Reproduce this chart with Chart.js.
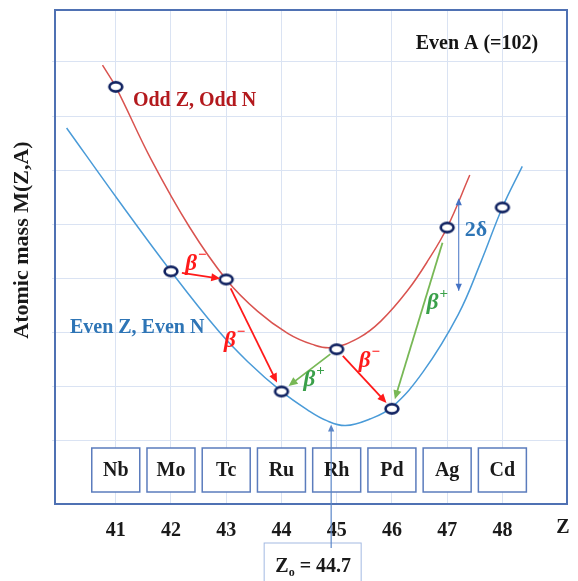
<!DOCTYPE html>
<html>
<head>
<meta charset="utf-8">
<style>
  html, body { margin: 0; padding: 0; background: #fff; }
</style>
<script src="https://cdn.jsdelivr.net/npm/chart.js@4.4.4/dist/chart.umd.min.js"></script>
</head>
<body>
<canvas id="chart" width="578" height="581"></canvas>
<script>
// isobars A = 102 (mass in arbitrary grid units)
const elementNames = ['Nb', 'Mo', 'Tc', 'Ru', 'Rh', 'Pd', 'Ag', 'Cd'];
const elementZ     = [41, 42, 43, 44, 45, 46, 47, 48];
const elementMass  = [6.54, 3.13, 2.98, 0.91, 1.69, 0.59, 3.94, 4.31];

// odd Z, odd N parabola (red)
const oddCurveZ = [40.76, 41, 41.64, 42.34, 43, 43.57, 44.12, 44.56, 44.91, 45.4, 45.8, 46.28, 46.66, 47, 47.41];
const oddCurveM = [6.94, 6.54, 5.20, 3.94, 2.98, 2.39, 1.98, 1.78, 1.72, 1.90, 2.21, 2.77, 3.34, 3.94, 4.91];

// even Z, even N parabola (blue)
const evenCurveZ = [40.11, 41.05, 42, 42.85, 43.39, 44, 44.47, 44.82, 45.16, 45.6, 46, 46.57, 47.2, 47.61, 48, 48.36];
const evenCurveM = [5.78, 4.44, 3.13, 2.04, 1.46, 0.91, 0.57, 0.37, 0.28, 0.40, 0.62, 1.28, 2.33, 3.30, 4.31, 5.07];

const tickZ = [41, 42, 43, 44, 45, 46, 47, 48];
const gridM = [0, 1, 2, 3, 4, 5, 6, 7];

const zMin = 44.7;

// decays: from -> to
const decayFrom = ['Mo', 'Tc', 'Rh', 'Rh', 'Ag'];
const decayTo   = ['Tc', 'Ru', 'Pd', 'Ru', 'Pd'];
const decaySign = ['−', '−', '−', '+', '+'];

// label placement (pixel offsets from arrow middle) and gaps
const decayLabelOff = [[-10, -12], [-24, 6], [0, -18], [0, 10], [14, -18]];
const decayGap = [[11, 6], [10, 10], [9, 8], [8, 9], [16, 10]];

const notes = [
  { text: 'Odd Z, Odd N',   z: 41.31, m: 6.29, color: '#b3191d', size: 20 },
  { text: 'Even Z, Even N', z: 40.17, m: 2.08, color: '#2e75b6', size: 20 },
  { text: 'Even A (=102)',  z: 46.43, m: 7.33, color: '#151515', size: 20 },
  { text: '2δ',             z: 47.32, m: 3.88, color: '#2e75b6', size: 22 }
];

const SERIF = "'Liberation Serif', 'DejaVu Serif', serif";
const RED = '#ff1a1a', GREEN = '#3aa04a', GREEN_LINE = '#78b856';

function ringImage() {
  const c = document.createElement('canvas');
  c.width = 18; c.height = 14;
  const g = c.getContext('2d');
  g.beginPath();
  g.ellipse(9, 7, 6.4, 4.6, 0, 0, Math.PI * 2);
  g.fillStyle = '#fff';
  g.fill();
  g.lineWidth = 2.6;
  g.strokeStyle = '#0f2160';
  g.stroke();
  return c;
}

function arrow(ctx, x1, y1, x2, y2, color, width, head, both) {
  const ang = Math.atan2(y2 - y1, x2 - x1);
  ctx.strokeStyle = color;
  ctx.fillStyle = color;
  ctx.lineWidth = width;
  ctx.beginPath();
  ctx.moveTo(x1, y1);
  ctx.lineTo(x2 - Math.cos(ang) * head * 0.8, y2 - Math.sin(ang) * head * 0.8);
  ctx.stroke();
  const tip = (x, y, a) => {
    ctx.beginPath();
    ctx.moveTo(x, y);
    ctx.lineTo(x - head * Math.cos(a) + head * 0.45 * Math.sin(a), y - head * Math.sin(a) - head * 0.45 * Math.cos(a));
    ctx.lineTo(x - head * Math.cos(a) - head * 0.45 * Math.sin(a), y - head * Math.sin(a) + head * 0.45 * Math.cos(a));
    ctx.closePath();
    ctx.fill();
  };
  tip(x2, y2, ang);
  if (both) tip(x1, y1, ang + Math.PI);
}

function label(ctx, str, x, y, font, color, align) {
  ctx.font = font;
  ctx.fillStyle = color;
  ctx.textAlign = align || 'center';
  ctx.textBaseline = 'middle';
  ctx.fillText(str, x, y);
}

const decor = {
  id: 'decor',
  beforeDatasetsDraw(chart) {
    const { ctx, chartArea: a, scales: { x } } = chart;
    ctx.save();
    elementNames.forEach((name, i) => {
      const cx = x.getPixelForValue(elementZ[i]);
      ctx.fillStyle = '#fff';
      ctx.fillRect(cx - 24, a.bottom - 56, 48, 44);
      ctx.strokeStyle = '#5b7cbd';
      ctx.lineWidth = 1.5;
      ctx.strokeRect(cx - 24, a.bottom - 56, 48, 44);
      label(ctx, name, cx, a.bottom - 33, 'bold 20px ' + SERIF, '#1a1a1a');
    });
    ctx.restore();
  },
  afterDatasetsDraw(chart) {
    const { ctx, chartArea: a, scales: { x, y } } = chart;
    const pos = name => {
      const i = elementNames.indexOf(name);
      return [x.getPixelForValue(elementZ[i]), y.getPixelForValue(elementMass[i])];
    };
    ctx.save();

    // frame
    ctx.strokeStyle = '#4f71b3';
    ctx.lineWidth = 2;
    ctx.strokeRect(a.left, a.top, a.width, a.height);

    // beta decay arrows
    decayFrom.forEach((f, i) => {
      const [x1, y1] = pos(f), [x2, y2] = pos(decayTo[i]);
      const len = Math.hypot(x2 - x1, y2 - y1);
      const ux = (x2 - x1) / len, uy = (y2 - y1) / len;
      const [g1, g2] = decayGap[i];
      const sx = x1 + ux * g1, sy = y1 + uy * g1, ex = x2 - ux * g2, ey = y2 - uy * g2;
      const minus = decaySign[i] === '−';
      arrow(ctx, sx, sy, ex, ey, minus ? RED : GREEN_LINE, 1.8, 9, false);
      const lx = (sx + ex) / 2 + decayLabelOff[i][0];
      const ly = (sy + ey) / 2 + decayLabelOff[i][1];
      const col = minus ? RED : GREEN;
      ctx.font = 'italic bold 23px ' + SERIF;
      const w = ctx.measureText('β').width;
      label(ctx, 'β', lx, ly, 'italic bold 23px ' + SERIF, col);
      label(ctx, decaySign[i], lx + w / 2 + 1, ly - 9, 'bold 15px ' + SERIF, col, 'left');
    });

    // 2δ double arrow
    const dx = x.getPixelForValue(47.21);
    arrow(ctx, dx, y.getPixelForValue(2.77), dx, y.getPixelForValue(4.48), '#4472c4', 1, 7, true);

    // notes
    notes.forEach(n => {
      label(ctx, n.text, x.getPixelForValue(n.z), y.getPixelForValue(n.m),
        'bold ' + n.size + 'px ' + SERIF, n.color, 'left');
    });

    // Z0 marker
    const zx = x.getPixelForValue(44.9);
    ctx.strokeStyle = '#a3b9e2';
    ctx.lineWidth = 1;
    ctx.strokeRect(zx - 67, 543, 97, 60);
    arrow(ctx, zx, 548, zx, y.getPixelForValue(0.30), '#5b86c8', 1.2, 7, false);
    ctx.font = 'bold 20px ' + SERIF;
    const p1 = ctx.measureText('Z').width;
    const p3 = ctx.measureText(' = ' + zMin).width;
    ctx.font = 'bold 12px ' + SERIF;
    const p2 = ctx.measureText('o').width;
    const tx = zx - 18 - (p1 + p2 + p3) / 2;
    label(ctx, 'Z', tx, 567, 'bold 20px ' + SERIF, '#1a1a1a', 'left');
    label(ctx, 'o', tx + p1, 573, 'bold 12px ' + SERIF, '#1a1a1a', 'left');
    label(ctx, ' = ' + zMin, tx + p1 + p2, 567, 'bold 20px ' + SERIF, '#1a1a1a', 'left');

    // axis titles
    label(ctx, 'Z', a.right - 4, a.bottom + 24, 'bold 20px ' + SERIF, '#1a1a1a');
    ctx.save();
    ctx.translate(22, 240);
    ctx.rotate(-Math.PI / 2);
    label(ctx, 'Atomic mass M(Z,A)', 0, 0, 'bold 22px ' + SERIF, '#1a1a1a');
    ctx.restore();

    ctx.restore();
  }
};

const toXY = (zs, ms) => zs.map((z, i) => ({ x: z, y: ms[i] }));

new Chart(document.getElementById('chart'), {
  type: 'scatter',
  data: {
    datasets: [
      {
        label: 'isobars',
        data: toXY(elementZ, elementMass),
        pointStyle: ringImage(),
        pointRadius: 7,
        showLine: false
      },
      {
        label: 'Odd Z, Odd N',
        data: toXY(oddCurveZ, oddCurveM),
        showLine: true,
        borderColor: '#d9534f',
        borderWidth: 1.5,
        pointRadius: 0,
        tension: 0.4,
        fill: false
      },
      {
        label: 'Even Z, Even N',
        data: toXY(evenCurveZ, evenCurveM),
        showLine: true,
        borderColor: '#4a9bd8',
        borderWidth: 1.5,
        pointRadius: 0,
        tension: 0.4,
        fill: false
      }
    ]
  },
  options: {
    responsive: false,
    animation: false,
    devicePixelRatio: 1,
    layout: { padding: { left: 52, right: 11, top: 10, bottom: 23 } },
    plugins: { legend: { display: false }, tooltip: { enabled: false } },
    scales: {
      x: {
        type: 'linear',
        min: 39.9, max: 49.17,
        afterBuildTicks: s => { s.ticks = tickZ.map(v => ({ value: v })); },
        grid: { color: '#dae3f3', lineWidth: 1, drawTicks: false },
        border: { display: false },
        ticks: { padding: 15, color: '#1a1a1a', font: { family: SERIF, size: 20, weight: 'bold' } }
      },
      y: {
        type: 'linear',
        min: -1.17, max: 7.96,
        afterBuildTicks: s => { s.ticks = gridM.map(v => ({ value: v })); },
        grid: { color: '#dae3f3', lineWidth: 1, drawTicks: true, tickLength: 3 },
        border: { display: false },
        ticks: { display: false }
      }
    }
  },
  plugins: [decor]
});
</script>
</body>
</html>
